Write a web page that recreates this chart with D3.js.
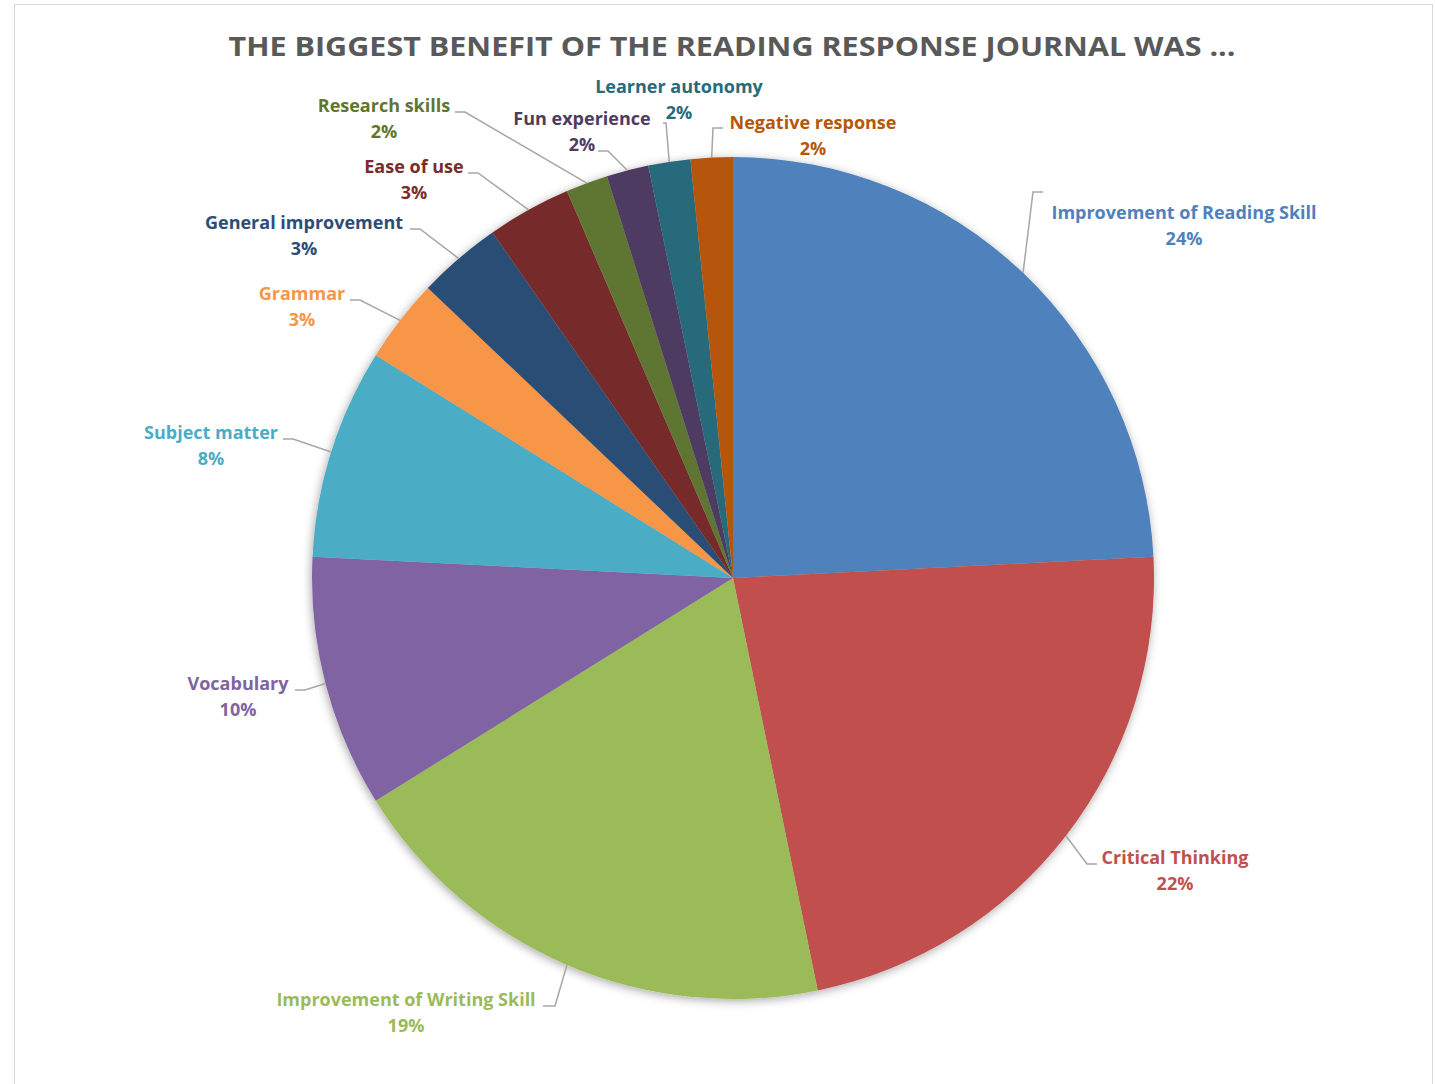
<!DOCTYPE html>
<html>
<head>
<meta charset="utf-8">
<script src="https://cdn.jsdelivr.net/npm/d3@7"></script>
<style>
  body { margin: 0; background: #fff; }
  svg { display: block; font-family: "Open Sans", Lato, sans-serif; }
</style>
</head>
<body>
<div id="chart"></div>
<script>
// pie of survey answers, order = clockwise from 12 o'clock
const categories = [
  "Improvement of Reading Skill", "Critical Thinking", "Improvement of Writing Skill",
  "Vocabulary", "Subject matter", "Grammar", "General improvement", "Ease of use",
  "Research skills", "Fun experience", "Learner autonomy", "Negative response"
];
const counts = [15, 14, 12, 6, 5, 2, 2, 2, 1, 1, 1, 1];
const percentLabels = ["24%", "22%", "19%", "10%", "8%", "3%", "3%", "3%", "2%", "2%", "2%", "2%"];
const colors = [
  "#4F81BD", "#C0504D", "#9BBB59", "#8064A2", "#4BACC6", "#F79646",
  "#2C4D75", "#772C2A", "#5F7530", "#4D3B62", "#276A7C", "#B65708"
];

// label placement: text centre, first baseline, leader elbow and end
const labelLayout = [
  { x: 1184, y: 219, elbow: [1033, 192], end: [1043, 192] },
  { x: 1175, y: 864, elbow: [1087, 864], end: [1097, 864] },
  { x: 406,  y: 1006, elbow: [555, 1006], end: [543, 1006] },
  { x: 238,  y: 690, elbow: [305, 690], end: [295, 690] },
  { x: 211,  y: 439, elbow: [293, 439], end: [283, 439] },
  { x: 302,  y: 300, elbow: [360, 300], end: [350, 300] },
  { x: 304,  y: 229, elbow: [420, 229], end: [410, 229] },
  { x: 414,  y: 173, elbow: [478, 173], end: [468, 173] },
  { x: 384,  y: 112, elbow: [465, 112], end: [455, 112] },
  { x: 582,  y: 125, elbow: [608, 151], end: [598, 151] },
  { x: 679,  y: 93,  elbow: [666, 123], end: [663, 123] },
  { x: 813,  y: 129, elbow: [713, 128], end: [723, 128] }
];

const width = 1435;
const height = 1084;
const cx = 733, cy = 578, radius = 421;

const svg = d3.select("#chart").append("svg")
  .attr("width", width)
  .attr("height", height);

const defs = svg.append("defs");
defs.append("filter")
  .attr("id", "pieShadow")
  .attr("x", "-10%").attr("y", "-10%")
  .attr("width", "120%").attr("height", "120%")
  .append("feDropShadow")
  .attr("dx", -1).attr("dy", 2)
  .attr("stdDeviation", 5)
  .attr("flood-color", "#000")
  .attr("flood-opacity", 0.35);

// chart area frame
svg.append("rect")
  .attr("x", 14.5).attr("y", 4.5)
  .attr("width", 1418).attr("height", 1100)
  .attr("fill", "none")
  .attr("stroke", "#d9d9d9");

svg.append("text")
  .attr("x", 732)
  .attr("y", 56)
  .attr("text-anchor", "middle")
  .attr("textLength", 1007)
  .attr("lengthAdjust", "spacingAndGlyphs")
  .style("font-size", "27px")
  .style("font-weight", "bold")
  .style("fill", "#595959")
  .text("THE BIGGEST BENEFIT OF THE READING RESPONSE JOURNAL WAS ...");

const pie = d3.pie().sort(null).value(d => d);
const arcs = pie(counts);
const arc = d3.arc().innerRadius(0).outerRadius(radius);

const g = svg.append("g").attr("transform", `translate(${cx},${cy})`);

g.append("g")
  .attr("filter", "url(#pieShadow)")
  .selectAll("path")
  .data(arcs)
  .join("path")
  .attr("d", arc)
  .attr("fill", (d, i) => colors[i]);

// leader lines
svg.append("g")
  .selectAll("polyline")
  .data(arcs)
  .join("polyline")
  .attr("fill", "none")
  .attr("stroke", "#a6a6a6")
  .attr("stroke-width", 1.5)
  .attr("points", (d, i) => {
    const a = (d.startAngle + d.endAngle) / 2;
    const px = cx + radius * Math.sin(a);
    const py = cy - radius * Math.cos(a);
    const L = labelLayout[i];
    return [[px, py], L.elbow, L.end].map(p => p.join(",")).join(" ");
  });

const labels = svg.append("g")
  .selectAll("text")
  .data(arcs)
  .join("text")
  .attr("text-anchor", "middle")
  .style("font-size", "18px")
  .style("font-weight", "bold")
  .style("fill", (d, i) => colors[i]);

labels.append("tspan")
  .attr("x", (d, i) => labelLayout[i].x)
  .attr("y", (d, i) => labelLayout[i].y)
  .text((d, i) => categories[i]);

labels.append("tspan")
  .attr("x", (d, i) => labelLayout[i].x)
  .attr("y", (d, i) => labelLayout[i].y + 26)
  .text((d, i) => percentLabels[i]);
</script>
</body>
</html>
